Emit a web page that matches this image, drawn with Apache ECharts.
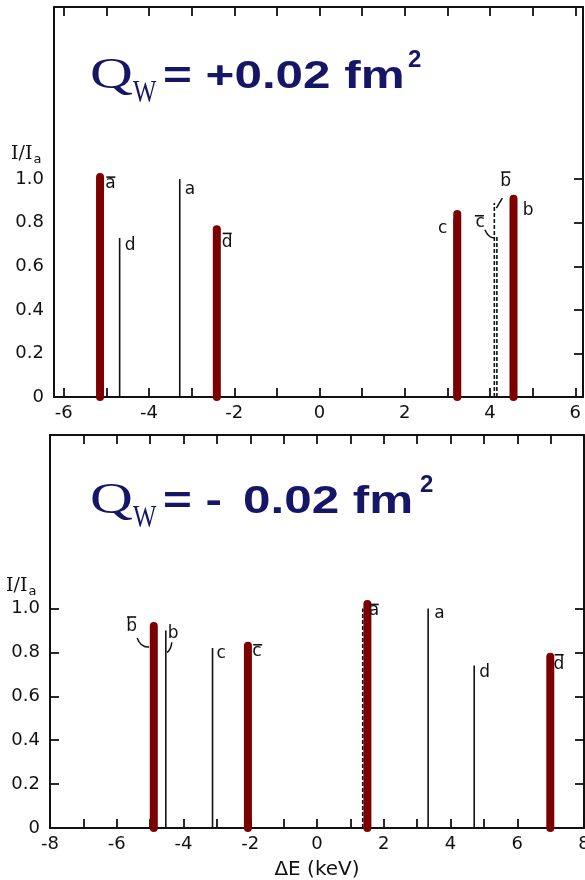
<!DOCTYPE html>
<html>
<head>
<meta charset="utf-8">
<script src="https://cdn.jsdelivr.net/npm/echarts@6/dist/echarts.min.js"></script>
<style>
html, body { margin: 0; padding: 0; background: #fff; }
#main { width: 585px; height: 880px; }
</style>
</head>
<body>
<div id="main"></div>
<script>
// line names, unbarred and barred
var names = ['a', 'b', 'c', 'd'];
var barNames = ['\u0101', 'b\u0304', 'c\u0304', 'd\u0304'];

// upper panel, Q_W = +0.02 fm^2   (dE in keV, I/Ia)
var upSolidE = [-3.28, 4.53, 3.16, -4.69];
var upSolidI = [1.00, 0.90, 0.82, 0.73];
var upBarE = [-5.19, 4.10, 4.16, -2.46];
var upBarI = [1.00, 0.89, 0.74, 0.76];
// red marks over ā, c, b, d̄
var upRedE = [-5.15, 3.23, 4.55, -2.41];
var upRedI = [1.01, 0.84, 0.91, 0.77];

// lower panel, Q_W = -0.02 fm^2
var lowSolidE = [3.33, -4.53, -3.13, 4.71];
var lowSolidI = [1.00, 0.90, 0.82, 0.74];
var lowBarE = [1.37, -4.91, -2.09, 6.97];
var lowBarI = [1.00, 0.92, 0.83, 0.78];
// red marks over ā, b̄, c̄, d̄
var lowRedE = [1.51, -4.89, -2.07, 6.99];
var lowRedI = [1.02, 0.92, 0.83, 0.78];

var yTicks = [0.2, 0.4, 0.6, 0.8, 1.0];
var yLabels = [0, 0.2, 0.4, 0.6, 0.8, 1.0];
var upXTicks = [-6, -5, -4, -3, -2, -1, 0, 1, 2, 3, 4, 5, 6];
var upXLabels = [-6, -4, -2, 0, 2, 4, 6];
var lowXTicks = [-8, -7, -6, -5, -4, -3, -2, -1, 0, 1, 2, 3, 4, 5, 6, 7, 8];
var lowXLabels = [-8, -6, -4, -2, 0, 2, 4, 6, 8];

var INK = '#111';
var RED = '#7d0000';
var NAVY = '#161668';
var FONT = '"DejaVu Sans", sans-serif';

// label offsets from the top of each line: [dx, dy, align, arrow]
var place = {
    up: {
        'a': [5, 2], 'b': [10, 1], 'c': [-7, 2, 'right'], 'd': [5, -1],
        '\u0101': [7, -4], 'b\u0304': [6, -30, 'left', [8, -5, 5, 0, 2, 5]],
        'c\u0304': [-12, -22, 'right', [-12, -6, -8, 3, -2, 2]],
        'd\u0304': [7, 3]
    },
    low: {
        'a': [6, -3], 'b': [2, -5, 'left', [6, 12, 5, 20, 1, 22]],
        'c': [4, -3], 'd': [5, -1],
        '\u0101': [6, -6], 'b\u0304': [-16, -8, 'right', [-16, 12, -12, 22, -4, 21]],
        'c\u0304': [5, -3], 'd\u0304': [4, -1]
    }
};

function pairs(E, I) {
    return E.map(function (e, k) { return [e, I[k], k]; });
}

function stickSeries(xi, E, I, style) {
    return {
        type: 'custom',
        xAxisIndex: xi,
        yAxisIndex: xi,
        data: pairs(E, I),
        renderItem: function (params, api) {
            var p0 = api.coord([api.value(0), 0]);
            var p1 = api.coord([api.value(0), api.value(1)]);
            return {
                type: 'line',
                shape: { x1: p0[0], y1: p0[1], x2: p1[0], y2: p1[1] },
                style: style
            };
        },
        z: style.lineWidth > 3 ? 4 : 3
    };
}

function labelSeries(xi, key, labels, E, I) {
    return {
        type: 'custom',
        xAxisIndex: xi,
        yAxisIndex: xi,
        data: pairs(E, I),
        z: 10,
        renderItem: function (params, api) {
            var name = labels[api.value(2)];
            var p = api.coord([api.value(0), api.value(1)]);
            var pos = place[key][name];
            var base = name.normalize('NFD').charAt(0);
            var align = pos[2] || 'left';
            var x = p[0] + pos[0], y = p[1] + pos[1];
            var kids = [{
                type: 'text', x: x, y: y,
                style: {
                    text: base, font: '17px ' + FONT, fill: INK,
                    align: align, verticalAlign: 'top'
                }
            }];
            if (base !== name) {
                // draw the bar over the letter by hand
                var by = (base === 'b' || base === 'd') ? y - 1 : y + 2;
                var bx = align === 'right' ? x - 10 : x + 1;
                kids.push({
                    type: 'line',
                    shape: { x1: bx, y1: by, x2: bx + 9, y2: by },
                    style: { stroke: INK, lineWidth: 1.6 }
                });
            }
            if (pos[3]) {
                var a = pos[3];
                kids.push({
                    type: 'bezierCurve',
                    shape: {
                        x1: p[0] + a[0], y1: p[1] + a[1],
                        cpx1: p[0] + a[2], cpy1: p[1] + a[3],
                        x2: p[0] + a[4], y2: p[1] + a[5]
                    },
                    style: { stroke: INK, lineWidth: 1.5, fill: null }
                });
            }
            return { type: 'group', children: kids };
        }
    };
}

function panelSeries(xi, key, sE, sI, bE, bI, rE, rI) {
    return [
        stickSeries(xi, sE, sI, { stroke: INK, lineWidth: 1.6 }),
        stickSeries(xi, bE, bI, { stroke: INK, lineWidth: 1.6, lineDash: [4, 2] }),
        stickSeries(xi, rE, rI, { stroke: RED, lineWidth: 8, lineCap: 'round' }),
        labelSeries(xi, key, names, sE, sI),
        labelSeries(xi, key, barNames, bE, bI)
    ];
}

var lineStyle = { color: INK, width: 2 };
var tickStyle = { color: INK, width: 1.8 };

function xAxes(grid, min, max, ticks, labels, name) {
    return [{
        gridIndex: grid, type: 'value', min: min, max: max, position: 'bottom',
        axisLine: { onZero: false, lineStyle: lineStyle },
        axisTick: { inside: true, length: 9, customValues: ticks, lineStyle: tickStyle },
        axisLabel: { customValues: labels, color: INK, fontSize: 18, fontFamily: FONT, margin: 7 },
        splitLine: { show: false },
        name: name || '', nameLocation: 'middle', nameGap: 32,
        nameTextStyle: { color: INK, fontSize: 20, fontFamily: FONT }
    }, {
        gridIndex: grid, type: 'value', min: min, max: max, position: 'top',
        axisLine: { onZero: false, lineStyle: lineStyle },
        axisTick: { inside: true, length: 9, customValues: ticks, lineStyle: tickStyle },
        axisLabel: { show: false },
        splitLine: { show: false }
    }];
}

function yAxes(grid, leftTicks) {
    return [{
        gridIndex: grid, type: 'value', min: 0, max: 1.79, position: 'left',
        axisLine: { onZero: false, lineStyle: lineStyle },
        axisTick: { show: leftTicks, inside: true, length: 9, customValues: yTicks, lineStyle: tickStyle },
        axisLabel: {
            customValues: yLabels, color: INK, fontSize: 18, fontFamily: FONT, margin: 10,
            formatter: function (v) { return v === 0 ? '0' : v.toFixed(1); }
        },
        splitLine: { show: false }
    }, {
        gridIndex: grid, type: 'value', min: 0, max: 1.79, position: 'right',
        axisLine: { onZero: false, lineStyle: lineStyle },
        axisTick: { inside: true, length: 9, customValues: yTicks, lineStyle: tickStyle },
        axisLabel: { show: false },
        splitLine: { show: false }
    }];
}

// big navy Q_W headings; parts = [[text, x], ...]
function heading(y0, parts, supX) {
    var els = [
        { type: 'text', x: 90, y: y0 - 37, scaleX: 1.35, z: 20,
          style: { text: 'Q', font: '44px "Liberation Serif"', fill: NAVY } },
        { type: 'text', x: 133, y: y0 - 13, scaleX: 0.8, z: 20,
          style: { text: 'W', font: '31px "Liberation Serif"', fill: NAVY } },
        { type: 'text', x: supX, y: y0 - 43, z: 20,
          style: { text: '2', font: 'bold 24px "Liberation Sans"', fill: NAVY } }
    ];
    parts.forEach(function (p) {
        els.push({ type: 'text', x: p[1], y: y0 - 32, scaleX: 1.3, z: 20,
            style: { text: p[0], font: 'bold 38px "Liberation Sans"', fill: NAVY } });
    });
    return els;
}

function ratioLabel(x, y) {
    return {
        type: 'text', x: x, y: y, z: 20,
        style: {
            text: '{n|I/I}{s|a}',
            rich: {
                n: { font: '19px "DejaVu Serif"', fill: INK },
                s: { font: '13px ' + FONT, fill: INK, padding: [10, 0, 0, 1] }
            }
        }
    };
}

var myChart = echarts.init(document.getElementById('main'));

var option = {
    backgroundColor: '#fff',
    animation: false,
    grid: [
        { left: 54, top: 7, width: 529, height: 390, outerBoundsMode: 'none' },
        { left: 50, top: 435, width: 534, height: 393, outerBoundsMode: 'none' }
    ],
    xAxis: xAxes(0, -6.23, 6.18, upXTicks, upXLabels)
        .concat(xAxes(1, -8, 8, lowXTicks, lowXLabels, '\u0394E (keV)')),
    yAxis: yAxes(0, false).concat(yAxes(1, true)),
    series: [].concat(
        panelSeries(0, 'up', upSolidE, upSolidI, upBarE, upBarI, upRedE, upRedI),
        panelSeries(2, 'low', lowSolidE, lowSolidI, lowBarE, lowBarI, lowRedE, lowRedI)
    ),
    graphic: heading(91, [['= +0.02 fm', 163]], 408)
        .concat(heading(516, [['= -', 163], ['0.02 fm', 243]], 420))
        .concat([ratioLabel(11, 143), ratioLabel(6, 575)])
};

myChart.setOption(option);
</script>
</body>
</html>
